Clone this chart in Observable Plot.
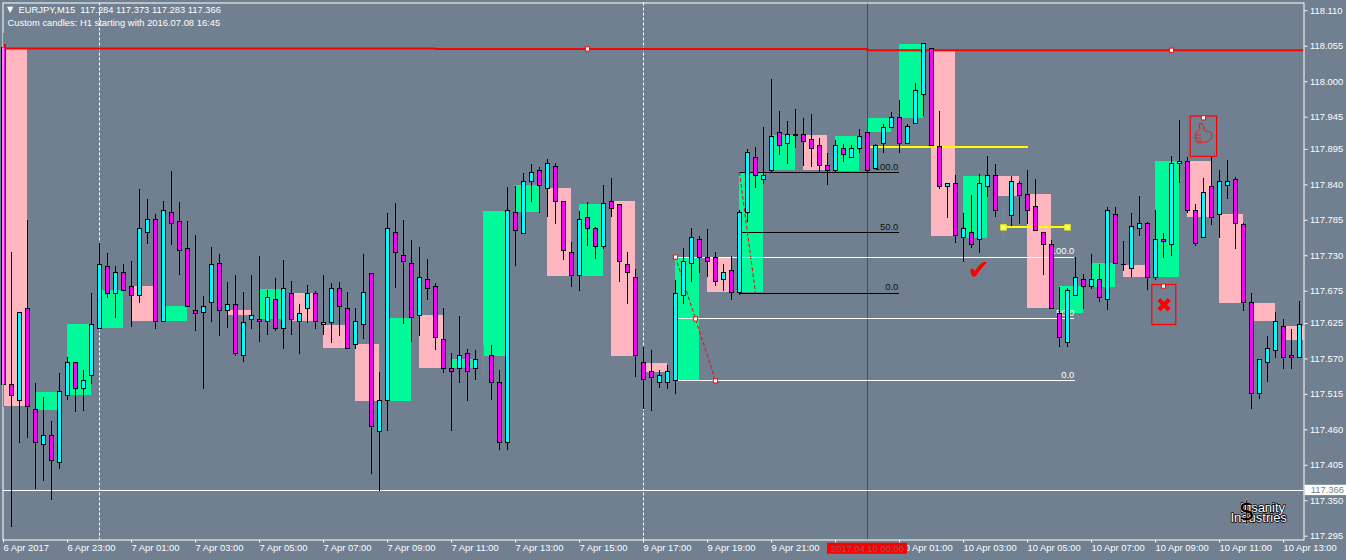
<!DOCTYPE html>
<html><head><meta charset="utf-8">
<script src="https://cdn.jsdelivr.net/npm/d3@7"></script>
<script src="https://cdn.jsdelivr.net/npm/@observablehq/plot@0.6"></script>
<style>html,body{margin:0;padding:0;background:#708090;overflow:hidden}svg{display:block}</style>
</head><body><div id="c"></div><script>
const open=[118.052,117.530,117.505,117.648,117.490,117.437,117.451,117.408,117.513,117.564,
117.523,117.543,117.617,117.712,117.670,117.703,117.681,117.668,117.766,117.785,
117.628,117.796,117.782,117.740,117.645,117.642,117.656,117.718,117.645,117.653,
117.575,117.630,117.631,117.628,117.662,117.616,117.671,117.628,117.647,117.670,
117.622,117.625,117.679,117.647,117.592,117.622,117.701,117.457,117.504,117.766,
117.729,117.718,117.637,117.693,117.682,117.599,117.555,117.555,117.577,117.555,
null,117.574,117.533,117.440,117.796,117.763,117.845,117.862,117.834,117.867,
117.814,117.735,117.698,117.788,117.771,117.744,117.814,117.808,117.716,117.696,
117.563,117.549,117.532,117.533,117.536,117.668,117.718,117.755,117.726,117.726,
117.693,117.707,117.673,117.797,117.882,117.847,117.862,117.921,117.903,117.917,
117.917,117.909,117.901,117.870,117.861,117.895,117.881,117.895,117.921,117.864,
117.903,117.928,117.943,117.904,117.935,117.980,118.050,117.898,117.837,117.842,
117.757,117.766,117.754,117.836,117.853,null,117.791,117.842,117.825,117.806,
117.765,117.746,117.640,117.595,117.668,117.692,117.681,117.692,117.662,117.794,
117.716,117.710,117.771,117.780,117.696,117.754,117.746,117.872,117.876,117.800,
117.757,117.836,117.794,117.839,117.848,117.777,117.656,117.516,117.563,117.583,
117.620,117.575,117.572];
const close=[117.529,117.512,117.642,117.495,117.440,117.451,117.412,117.518,117.564,117.523,
117.535,117.623,117.715,117.670,117.703,117.676,117.668,117.772,117.786,117.628,
117.800,117.779,117.738,117.651,117.640,117.651,117.715,117.645,117.654,117.578,
117.625,117.637,117.628,117.665,117.617,117.678,117.630,117.639,117.670,117.628,
117.625,117.679,117.650,117.586,117.628,117.673,117.465,117.504,117.772,117.735,
117.720,117.633,117.695,117.679,117.603,117.555,117.549,117.575,117.549,117.569,
null,117.532,117.440,117.799,117.768,117.845,117.859,117.839,117.873,117.814,
117.737,117.698,117.786,117.771,117.743,117.810,117.802,117.721,117.704,117.574,
117.538,117.541,117.544,117.549,117.670,117.721,117.757,117.727,117.720,117.690,
117.704,117.673,117.797,117.889,117.853,117.853,117.915,117.900,117.917,117.916,
117.907,117.896,117.870,117.862,117.901,117.887,117.896,117.915,117.862,117.901,
117.928,117.943,117.903,117.929,117.985,118.058,117.900,117.837,117.841,117.760,
117.772,117.746,117.842,117.853,117.799,null,117.845,117.822,117.800,117.769,
117.746,117.648,117.603,117.675,117.696,117.682,117.693,117.665,117.799,117.718,
117.715,117.774,117.780,117.696,117.755,117.751,117.873,117.876,117.800,117.749,
117.828,117.789,117.845,117.845,117.780,117.656,117.515,117.569,117.586,117.628,
117.572,117.572,117.622];
const high=[118.075,117.735,117.642,117.785,117.532,117.510,117.473,117.547,117.572,117.564,
117.552,117.671,117.749,117.734,117.713,117.716,117.721,117.833,117.817,117.794,
117.814,117.861,117.813,117.783,117.761,117.667,117.743,117.732,117.689,117.699,
117.673,117.699,117.729,117.676,117.695,117.723,117.690,117.654,117.684,117.675,
117.699,117.687,117.689,117.673,117.648,117.732,117.701,117.549,117.796,117.811,
117.785,117.754,117.743,117.724,117.687,117.648,117.578,117.636,117.585,117.583,
null,117.591,117.552,117.836,117.837,117.858,117.872,117.867,117.879,117.873,
117.814,117.751,117.799,117.813,117.774,117.839,117.850,117.808,117.735,117.709,
117.588,117.583,117.552,117.560,117.692,117.741,117.772,117.760,117.771,117.735,
117.716,117.729,117.800,117.895,117.898,117.929,118.003,117.954,117.938,117.957,
117.943,117.949,117.912,117.889,117.909,117.903,117.901,117.926,117.921,117.903,
117.934,117.952,117.971,117.934,117.997,118.058,118.052,117.954,117.842,117.855,
117.796,117.824,117.856,117.884,117.872,null,117.853,117.845,117.862,117.848,
117.766,117.754,117.681,117.679,117.727,117.701,117.732,117.716,117.805,117.805,
117.752,117.796,117.822,117.782,117.800,117.765,117.884,117.940,117.882,117.810,
117.850,117.882,117.862,117.878,117.851,117.780,117.671,117.569,117.605,117.642,
117.631,117.616,117.659];
const low=[117.495,117.309,117.439,117.447,117.367,117.380,117.350,117.398,117.505,117.487,
117.488,117.530,117.617,117.664,117.633,117.676,117.619,117.656,117.748,117.616,
117.628,117.746,117.699,117.651,117.613,117.523,117.627,117.605,117.617,117.574,
117.564,117.616,117.595,117.606,117.613,117.585,117.606,117.577,117.625,117.616,
117.606,117.594,117.605,117.586,117.585,117.600,117.391,117.364,117.457,117.679,
117.623,117.595,117.605,117.661,117.583,117.547,117.457,117.532,117.504,117.536,
null,117.505,117.428,117.428,117.713,117.763,117.813,117.796,117.789,117.779,
117.723,117.681,117.675,117.744,117.724,117.740,117.789,117.689,117.654,117.541,
117.492,117.488,117.524,117.523,117.515,117.654,117.689,117.703,117.696,117.682,
117.675,117.661,117.668,117.782,117.834,117.841,117.859,117.886,117.872,117.896,
117.869,117.867,117.859,117.839,117.859,117.875,117.881,117.889,117.859,117.864,
117.889,117.928,117.889,117.903,117.935,117.946,117.900,117.833,117.788,117.749,
117.720,117.741,117.734,117.820,117.789,null,117.775,117.779,117.779,117.769,
117.699,117.648,117.588,117.588,117.668,117.647,117.678,117.658,117.645,117.718,
117.706,117.696,117.760,117.676,117.692,117.726,117.729,117.842,117.796,117.744,
117.757,117.777,117.757,117.817,117.740,117.644,117.492,117.507,117.533,117.571,
117.554,117.554,117.572];
const h1Open=[118.052,117.490,117.513,117.617,117.682,117.628,117.645,117.645,117.631,117.671,117.622,117.592,117.504,117.637,117.555,117.574,117.797,117.834,117.698,117.814,117.563,117.536,117.726,117.673,117.862,117.917,117.861,117.921,117.943,118.049,117.757,117.853,117.825,117.640,117.681,117.715,117.696,117.876,117.794,117.656,117.620];
const h1Close=[117.496,117.518,117.623,117.676,117.628,117.651,117.645,117.637,117.678,117.628,117.586,117.504,117.633,117.555,117.569,117.799,117.839,117.698,117.810,117.574,117.549,117.727,117.673,117.858,117.917,117.862,117.915,117.943,118.058,117.760,117.853,117.822,117.648,117.682,117.718,117.696,117.876,117.789,117.656,117.628,117.599];
const crossBars=[60,125], crossMid=[117.572,117.796], crossHigh=[117.591,117.808], crossLow=[117.543,117.754];
const yTicks=[118.110,118.055,118.000,117.945,117.895,117.840,117.785,117.730,117.675,117.625,117.570,117.515,117.460,117.405,117.350,117.295];
const xTicks=[0,8,16,24,32,40,48,56,64,72,80,88,96,104,112,120,128,136,144,152,160];
const xLabels=["6 Apr 2017","6 Apr 23:00","7 Apr 01:00","7 Apr 03:00","7 Apr 05:00","7 Apr 07:00","7 Apr 09:00","7 Apr 11:00","7 Apr 13:00","7 Apr 15:00","9 Apr 17:00","9 Apr 19:00","9 Apr 21:00","9 Apr 23:00","10 Apr 01:00","10 Apr 03:00","10 Apr 05:00","10 Apr 07:00","10 Apr 09:00","10 Apr 11:00","10 Apr 13:00"];
const lastPrice=117.366;
const redSegs=[[0,54,118.0515],[54,108,118.0508],[108,168,118.0488]];
const blackFib=[[859,"100.0"],[766,"50.0"],[672,"0.0"]].map(([v,l])=>({p:117+v/1000,l}));
const whiteFib=[[728,"100.0"],[632,"50.0"],[536,"0.0"]].map(([v,l])=>({p:117+v/1000,l}));

const F="'Liberation Sans',Arial,sans-serif", FS=9.4;
const bars=open.map((o,i)=>({i,o,c:close[i],h:high[i],l:low[i]})).filter(d=>d.o!=null);
const boxes=h1Open.map((o,k)=>({i:k*4,o,c:h1Close[k]}));
const crisp={shapeRendering:"crispEdges"};
const chart=Plot.plot({
 width:1346,height:560,marginLeft:2.5,marginTop:2.5,marginRight:42.5,marginBottom:20.5,
 style:{background:"#708090",fontFamily:F,overflow:"hidden"},
 x:{type:"linear",domain:[0,162],range:[3,1299]},
 y:{type:"linear",domain:[118.110,117.295],range:[10.3,535.7]},
 marks:[
  Plot.rect(boxes,{x1:"i",x2:d=>d.i+3,y1:"o",y2:"c",fill:d=>d.c>d.o?"#00fa9a":"#ffb6c1",clip:true,...crisp}),
  Plot.ruleX([12,80],{stroke:"white",strokeDasharray:"3,2",strokeWidth:1}),
  Plot.ruleX([108],{stroke:"red",strokeWidth:1}),
  Plot.ruleY([lastPrice],{stroke:"white",strokeWidth:1,...crisp}),
  ...redSegs.map(s=>Plot.line([[s[0],s[2]],[s[1],s[2]]],{stroke:"red",strokeWidth:2,clip:true})),
  ...blackFib.map(d=>Plot.line([[92,d.p],[111.85,d.p]],{stroke:"black",strokeWidth:1,...crisp})),
  ...whiteFib.map(d=>Plot.line([[84,d.p],[133.85,d.p]],{stroke:"white",strokeWidth:1,...crisp})),
  Plot.text(blackFib,{x:()=>111.85,y:"p",text:"l",textAnchor:"end",dy:-6,fill:"#111",fontSize:FS,fontFamily:F}),
  Plot.text(whiteFib,{x:()=>133.85,y:"p",text:"l",textAnchor:"end",dy:-6,fill:"white",fontSize:FS,fontFamily:F}),
  Plot.line([[84,117.728],[89,117.536]],{stroke:"red",strokeWidth:1,strokeDasharray:"3,3"}),
  Plot.line([[92,117.859],[94,117.672]],{stroke:"red",strokeWidth:1,strokeDasharray:"3,3"}),
  Plot.line([[108.3,117.898],[128,117.898]],{stroke:"yellow",strokeWidth:2,...crisp}),
  Plot.line([[125,117.774],[133,117.774]],{stroke:"yellow",strokeWidth:2,...crisp}),
  // candles
  Plot.ruleX(bars,{x:"i",y1:"l",y2:"h",stroke:"black",strokeWidth:1,...crisp}),
  Plot.rect(bars,{x1:d=>d.i-0.25,x2:d=>d.i+0.25,y1:"o",y2:"c",dx:0.5,fill:d=>d.c>d.o?"#00ffff":"#ff00ff",stroke:"black",strokeWidth:1,...crisp}),
  Plot.rect([[0.1,0.4,118.058,118.0515]],{x1:"0",x2:"1",y1:"2",y2:"3",fill:"red",...crisp}),
  // green crosses
  Plot.ruleX(crossBars,{x:d=>d,y1:(d,k)=>crossLow[k],y2:(d,k)=>crossHigh[k],stroke:"#22cc22",strokeWidth:1,...crisp}),
  Plot.ruleY(crossBars,{x1:d=>d-0.25,x2:d=>d+0.25,y:(d,k)=>crossMid[k],stroke:"#22cc22",strokeWidth:1,...crisp}),
  // handles
  Plot.dot([[73,118.0508],[146,118.0488],[84,117.728],[86.5,117.632],[89,117.536]],{x:"0",y:"1",symbol:"square",r:2.4,fill:"white",stroke:"red",strokeWidth:1}),
  Plot.dot([[125,117.774],[133,117.774]],{x:"0",y:"1",symbol:"square",r:2.5,fill:"white",stroke:"yellow",strokeWidth:2}),
  // icon boxes
  Plot.rect([[148.4,151.7,117.946,117.8835],[143.6,146.6,117.6847,117.6226]],{x1:"0",x2:"1",y1:"2",y2:"3",stroke:"red",fill:"none",strokeWidth:1.2}),
  Plot.dot([[150,117.944],[145,117.683]],{x:"0",y:"1",symbol:"square",r:2.4,fill:"white",stroke:"red",strokeWidth:1}),
  Plot.text(["✖"],{x:()=>145.1,y:()=>117.653,fill:"red",fontSize:20,fontFamily:"DejaVu Sans"}),
  Plot.text(["✔"],{x:()=>121.9,y:()=>117.708,fill:"red",fontSize:27,fontFamily:"DejaVu Sans"}),
  ()=>d3.create("svg:path").attr("d","M1197 132L1200 129L1199 124L1202 123L1204 128L1205 131L1211 132L1212 138L1207 142L1199 143L1196 141L1195 135L1197 132M1195 135H1201M1196 138H1201M1197 141H1202").attr("fill","none").attr("stroke","#e8201c").attr("stroke-width",1).node(),
  // watermark
  Plot.text(["Insanity"],{x:()=>157.4,y:()=>117.339,fill:"white",stroke:"black",strokeWidth:1.5,paintOrder:"stroke",fontSize:13,fontFamily:F}),
  Plot.text(["Industries"],{x:()=>156.9,y:()=>117.324,fill:"white",stroke:"black",strokeWidth:1.5,paintOrder:"stroke",fontSize:13,fontFamily:F}),
  Plot.text(["$"],{x:()=>155.4,y:()=>117.333,fill:"black",stroke:"white",strokeWidth:0.6,fontSize:26,fontFamily:"DejaVu Sans"}),
  // header
  Plot.text(["EURJPY,M15\u00a0\u00a0117.284 117.373 117.283 117.366"],{frameAnchor:"top-left",dx:15.5,dy:3,fill:"white",fontSize:FS,fontFamily:F,lineAnchor:"top"}),
  Plot.text(["Custom candles: H1 starting with 2016.07.08 16:45"],{frameAnchor:"top-left",dx:4.5,dy:16,fill:"white",fontSize:FS,fontFamily:F,lineAnchor:"top"}),
  Plot.text(["▼"],{frameAnchor:"top-left",dx:4,dy:3,fill:"white",fontSize:8,fontFamily:"DejaVu Sans",lineAnchor:"top"}),
  Plot.frame({stroke:"white",strokeWidth:1}),
  // axes
  Plot.axisY({anchor:"right",ticks:yTicks,tickFormat:d=>d.toFixed(3),tickSize:3,tickPadding:3,stroke:"white",color:"white",fill:"white",fontSize:FS,fontFamily:F,label:null}),
  Plot.axisX({anchor:"bottom",ticks:xTicks,tickFormat:d=>xLabels[xTicks.indexOf(d)],tickSize:3,tickPadding:1.5,stroke:"white",color:"white",fill:"white",textAnchor:"start",fontSize:FS,fontFamily:F,label:null}),
  // price & time labels
  Plot.rect([[162.7,170,117.374,117.358]],{x1:"0",x2:"1",y1:"2",y2:"3",fill:"white"}),
  Plot.text(["117.366"],{x:()=>163.4,y:()=>lastPrice,textAnchor:"start",fill:"#708090",fontSize:FS,fontFamily:F}),
  Plot.rect([[103,113,117.284,117.267]],{x1:"0",x2:"1",y1:"2",y2:"3",fill:"#ff0000"}),
  Plot.text(["2017.04.10 00:00"],{x:()=>108,y:()=>117.2755,fill:"#8f5a62",fontSize:FS,fontFamily:F})
 ]
});
document.getElementById("c").appendChild(chart);
</script></body></html>
